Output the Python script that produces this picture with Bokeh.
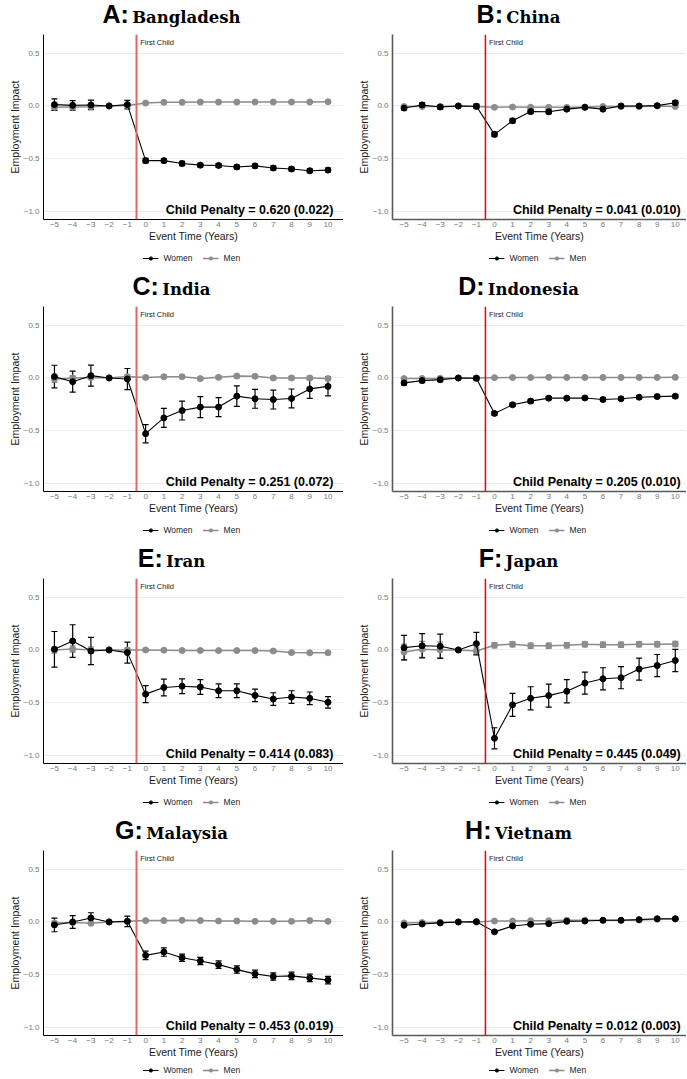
from bokeh.plotting import figure
from bokeh.models import (ColumnDataSource, Whisker, TeeHead, Span, Label, Legend,
                          LegendItem, Div, FixedTicker, CustomJSTickFormatter)
from bokeh.layouts import column, row
from bokeh.embed import file_html
from bokeh.resources import INLINE

event_time = list(range(-5, 11))
y_ticks = [-1.0, -0.5, 0.0, 0.5]

letters = ["A:", "B:", "C:", "D:", "E:", "F:", "G:", "H:"]
countries = ["Bangladesh", "China", "India", "Indonesia", "Iran", "Japan", "Malaysia", "Vietnam"]
penalties = ["0.620 (0.022)", "0.041 (0.010)", "0.251 (0.072)", "0.205 (0.010)",
             "0.414 (0.083)", "0.445 (0.049)", "0.453 (0.019)", "0.012 (0.003)"]
series_names = ["Women", "Men"]

bgd_women = [0.013, 0.006, 0.010, 0.0, 0.013, -0.520, -0.520, -0.547, -0.563, -0.566, -0.580, -0.570, -0.590, -0.600, -0.616, -0.610]
bgd_women_ci = [0.055, 0.045, 0.045, 0.0, 0.040, 0.022, 0.020, 0.020, 0.018, 0.018, 0.018, 0.018, 0.018, 0.018, 0.018, 0.018]
bgd_men = [-0.013, -0.010, -0.008, 0.0, 0.005, 0.028, 0.035, 0.035, 0.037, 0.037, 0.037, 0.038, 0.038, 0.038, 0.038, 0.040]
bgd_men_ci = [0.015, 0.012, 0.012, 0.0, 0.010, 0.006, 0.006, 0.006, 0.006, 0.006, 0.006, 0.006, 0.006, 0.006, 0.006, 0.006]
chn_women = [-0.020, 0.010, -0.010, 0.0, -0.003, -0.270, -0.140, -0.053, -0.055, -0.030, -0.013, -0.030, 0.000, 0.000, 0.003, 0.030]
chn_women_ci = [0.020, 0.020, 0.020, 0.0, 0.020, 0.022, 0.020, 0.020, 0.020, 0.015, 0.015, 0.015, 0.015, 0.015, 0.015, 0.020]
chn_men = [-0.005, -0.005, -0.005, 0.0, -0.005, -0.013, -0.010, -0.012, -0.013, -0.013, -0.010, -0.005, -0.005, -0.005, 0.000, -0.005]
chn_men_ci = [0.010, 0.010, 0.010, 0.0, 0.010, 0.008, 0.008, 0.008, 0.008, 0.008, 0.008, 0.008, 0.008, 0.008, 0.008, 0.008]
ind_women = [0.013, -0.035, 0.022, 0.0, -0.010, -0.530, -0.380, -0.310, -0.277, -0.277, -0.173, -0.198, -0.205, -0.195, -0.104, -0.080]
ind_women_ci = [0.108, 0.100, 0.100, 0.0, 0.100, 0.087, 0.090, 0.090, 0.100, 0.090, 0.098, 0.090, 0.090, 0.090, 0.090, 0.090]
ind_men = [-0.013, 0.000, 0.005, 0.0, 0.013, 0.005, 0.012, 0.012, -0.006, 0.006, 0.018, 0.016, 0.000, 0.000, 0.000, -0.005]
ind_men_ci = [0.030, 0.020, 0.020, 0.0, 0.020, 0.015, 0.015, 0.015, 0.015, 0.015, 0.015, 0.015, 0.015, 0.015, 0.015, 0.015]
idn_women = [-0.047, -0.025, -0.016, 0.0, -0.003, -0.337, -0.255, -0.220, -0.192, -0.192, -0.190, -0.205, -0.198, -0.183, -0.177, -0.173]
idn_women_ci = [0.020, 0.020, 0.018, 0.0, 0.018, 0.018, 0.016, 0.016, 0.016, 0.016, 0.016, 0.016, 0.016, 0.016, 0.016, 0.016]
idn_men = [-0.006, -0.004, -0.003, 0.0, 0.000, 0.003, 0.004, 0.004, 0.006, 0.005, 0.005, 0.005, 0.005, 0.005, 0.005, 0.006]
idn_men_ci = [0.008, 0.008, 0.008, 0.0, 0.006, 0.006, 0.006, 0.006, 0.006, 0.006, 0.006, 0.006, 0.006, 0.006, 0.006, 0.006]
irn_women = [0.006, 0.085, -0.010, 0.0, -0.025, -0.420, -0.357, -0.345, -0.353, -0.388, -0.388, -0.432, -0.467, -0.448, -0.460, -0.498]
irn_women_ci = [0.170, 0.155, 0.130, 0.0, 0.100, 0.080, 0.080, 0.070, 0.070, 0.065, 0.065, 0.060, 0.060, 0.060, 0.060, 0.055]
irn_men = [0.000, 0.010, 0.000, 0.0, 0.000, 0.000, -0.002, -0.005, -0.005, -0.006, -0.006, -0.006, -0.010, -0.025, -0.027, -0.027]
irn_men_ci = [0.030, 0.030, 0.030, 0.0, 0.020, 0.010, 0.010, 0.010, 0.010, 0.010, 0.010, 0.010, 0.010, 0.010, 0.010, 0.010]
jpn_women = [0.022, 0.040, 0.035, 0.0, 0.060, -0.840, -0.522, -0.460, -0.434, -0.393, -0.315, -0.274, -0.264, -0.182, -0.148, -0.100]
jpn_women_ci = [0.117, 0.115, 0.115, 0.0, 0.107, 0.100, 0.110, 0.110, 0.110, 0.110, 0.105, 0.105, 0.105, 0.105, 0.105, 0.105]
jpn_men = [-0.020, 0.006, 0.000, 0.0, -0.010, 0.045, 0.055, 0.040, 0.040, 0.045, 0.055, 0.050, 0.050, 0.055, 0.055, 0.057]
jpn_men_ci = [0.075, 0.075, 0.075, 0.0, 0.030, 0.025, 0.025, 0.025, 0.025, 0.025, 0.025, 0.025, 0.025, 0.025, 0.025, 0.025]
mys_women = [-0.028, 0.000, 0.038, 0.0, 0.006, -0.318, -0.286, -0.340, -0.371, -0.406, -0.453, -0.494, -0.519, -0.513, -0.532, -0.553]
mys_women_ci = [0.065, 0.060, 0.050, 0.0, 0.050, 0.040, 0.040, 0.035, 0.035, 0.035, 0.035, 0.035, 0.035, 0.035, 0.035, 0.035]
mys_men = [-0.010, -0.006, -0.013, 0.0, 0.006, 0.013, 0.013, 0.016, 0.013, 0.010, 0.010, 0.006, 0.006, 0.006, 0.013, 0.006]
mys_men_ci = [0.012, 0.012, 0.012, 0.0, 0.010, 0.008, 0.008, 0.008, 0.008, 0.008, 0.008, 0.008, 0.008, 0.008, 0.008, 0.008]
vnm_women = [-0.031, -0.019, -0.009, 0.0, 0.003, -0.094, -0.038, -0.022, -0.016, 0.006, 0.009, 0.016, 0.016, 0.022, 0.031, 0.031]
vnm_women_ci = [0.006, 0.006, 0.005, 0.0, 0.005, 0.006, 0.005, 0.005, 0.005, 0.005, 0.005, 0.005, 0.005, 0.005, 0.005, 0.005]
vnm_men = [-0.009, -0.006, -0.003, 0.0, 0.000, 0.009, 0.009, 0.012, 0.012, 0.016, 0.016, 0.016, 0.016, 0.019, 0.025, 0.028]
vnm_men_ci = [0.004, 0.004, 0.004, 0.0, 0.004, 0.004, 0.004, 0.004, 0.004, 0.004, 0.004, 0.004, 0.004, 0.004, 0.004, 0.004]

women_all = [bgd_women, chn_women, ind_women, idn_women, irn_women, jpn_women, mys_women, vnm_women]
women_ci_all = [bgd_women_ci, chn_women_ci, ind_women_ci, idn_women_ci, irn_women_ci, jpn_women_ci, mys_women_ci, vnm_women_ci]
men_all = [bgd_men, chn_men, ind_men, idn_men, irn_men, jpn_men, mys_men, vnm_men]
men_ci_all = [bgd_men_ci, chn_men_ci, ind_men_ci, idn_men_ci, irn_men_ci, jpn_men_ci, mys_men_ci, vnm_men_ci]

CELL_W = 343
TITLE_H = 34
FIG_H = 210
LEG_H = 28
LEG_H_LAST = 19
Y_PANEL_LEFT = 43
Y_PANEL_RIGHT = 49
SANS = "Liberation Sans"
WOMEN_C = "#000000"
MEN_C = "#8c8c8c"

x_fmt = CustomJSTickFormatter(code='return (tick < 0 ? "\u2212" : "") + Math.abs(tick).toFixed(0);')
y_fmt = CustomJSTickFormatter(code='return (tick < 0 ? "\u2212" : "") + Math.abs(tick).toFixed(1);')


def make_cell(i, leg_h):
    left_col = (i % 2 == 0)
    axis_c = "#000000" if left_col else "#5a5a5a"
    axis_w = 1 if left_col else 1.6
    vline_c = "#e06666" if left_col else "#ee0000"
    vline_w = 2 if left_col else 1.5
    y_panel = Y_PANEL_LEFT if left_col else Y_PANEL_RIGHT
    x_lo = -5.6 if left_col else -5.64
    x_hi = 10.85 if left_col else 10.62
    title_pad = 0 if left_col else 8

    title = Div(
        text=('<div style="width:%dpx;text-align:center;line-height:26px;padding-top:1px;padding-left:%dpx;'
              'box-sizing:border-box;white-space:nowrap;margin:0;">'
              '<span style="font-family:\'Liberation Sans\';font-weight:bold;font-size:25px;color:#000;">%s</span> '
              '<span style="font-family:\'DejaVu Serif\';font-weight:bold;font-size:16.5px;color:#000;">%s</span></div>')
        % (CELL_W, title_pad, letters[i], countries[i]),
        width=CELL_W, height=TITLE_H, margin=(0, 0, 0, 0))

    p = figure(width=CELL_W, height=FIG_H, x_range=(x_lo, x_hi), y_range=(-1.08, 0.68),
               output_backend="svg", toolbar_location=None,
               min_border_top=0, min_border_right=0, min_border_bottom=0, min_border_left=y_panel,
               margin=(0, 0, 0, 0))
    p.outline_line_color = None
    p.xgrid.grid_line_color = None
    p.ygrid.grid_line_color = "#ebebeb"

    p.xaxis.ticker = FixedTicker(ticks=event_time)
    p.xaxis.formatter = x_fmt
    p.yaxis.ticker = FixedTicker(ticks=y_ticks)
    p.yaxis.formatter = y_fmt
    for ax in (p.xaxis, p.yaxis):
        ax.major_tick_line_color = None
        ax.minor_tick_line_color = None
        ax.major_tick_out = 0
        ax.major_tick_in = 0
        ax.minor_tick_out = 0
        ax.axis_line_color = axis_c
        ax.axis_line_width = axis_w
        ax.major_label_text_font = SANS
        ax.major_label_text_font_size = "8px"
        ax.major_label_text_color = "#777777"
        ax.axis_label_text_font = SANS
        ax.axis_label_text_font_size = "10.5px"
        ax.axis_label_text_font_style = "normal"
        ax.axis_label_text_color = "#1a1a1a"
    p.xaxis.major_label_standoff = 2
    p.yaxis.major_label_standoff = 4
    p.xaxis.axis_label_standoff = 0
    p.yaxis.axis_label_standoff = 0
    p.xaxis.axis_label = "Event Time (Years)"
    p.yaxis.axis_label = "Employment Impact"

    p.add_layout(Span(location=-0.5, dimension="height", line_color=vline_c, line_width=vline_w))

    wm, wc, mm, mc = women_all[i], women_ci_all[i], men_all[i], men_ci_all[i]
    src_w = ColumnDataSource(dict(x=event_time, y=wm,
                                  lo=[a - b for a, b in zip(wm, wc)],
                                  hi=[a + b for a, b in zip(wm, wc)]))
    src_m = ColumnDataSource(dict(x=event_time, y=mm,
                                  lo=[a - b for a, b in zip(mm, mc)],
                                  hi=[a + b for a, b in zip(mm, mc)]))
    for src, col in ((src_m, MEN_C), (src_w, WOMEN_C)):
        p.add_layout(Whisker(source=src, base="x", upper="hi", lower="lo", dimension="height",
                             line_color=col, line_width=1.2,
                             upper_head=TeeHead(size=6, line_color=col, line_width=1.2),
                             lower_head=TeeHead(size=6, line_color=col, line_width=1.2)))
    p.line("x", "y", source=src_m, line_color=MEN_C, line_width=1.5)
    p.scatter("x", "y", source=src_m, size=6, fill_color=MEN_C, line_color=MEN_C)
    p.line("x", "y", source=src_w, line_color=WOMEN_C, line_width=1.1)
    p.scatter("x", "y", source=src_w, size=6, fill_color=WOMEN_C, line_color=WOMEN_C)

    p.add_layout(Label(x=-0.3, y=0.6, text="First Child", text_font=SANS, text_font_size="7.5px",
                       text_color="#222222", text_baseline="middle", text_align="left"))
    p.add_layout(Label(x=10.3, y=-0.985, text="Child Penalty = " + penalties[i], text_font=SANS,
                       text_font_size="12.5px", text_font_style="bold", text_color="#000000",
                       text_baseline="alphabetic", text_align="right"))

    # legend strip under the plot: a small figure whose frame lines up with the main frame;
    # its renderers share the series sources but its ranges keep the marks out of view
    lg = figure(width=CELL_W, height=leg_h, x_range=(100, 101), y_range=(100, 101),
                output_backend="svg", toolbar_location=None,
                min_border_left=y_panel, min_border_right=0, min_border_top=0, min_border_bottom=0,
                margin=(0, 0, 0, 0))
    lg.axis.visible = False
    lg.grid.visible = False
    lg.outline_line_color = None
    r_wl = lg.line("x", "y", source=src_w, line_color=WOMEN_C, line_width=1.2)
    r_wc = lg.scatter("x", "y", source=src_w, size=6, fill_color=WOMEN_C, line_color=WOMEN_C)
    r_ml = lg.line("x", "y", source=src_m, line_color=MEN_C, line_width=1.5)
    r_mc = lg.scatter("x", "y", source=src_m, size=6, fill_color=MEN_C, line_color=MEN_C)
    legend = Legend(items=[LegendItem(label=series_names[0], renderers=[r_wl, r_wc]),
                           LegendItem(label=series_names[1], renderers=[r_ml, r_mc])],
                    orientation="horizontal", location="center",
                    label_text_font=SANS, label_text_font_size="8.5px", label_text_color="#1a1a1a",
                    glyph_width=16, glyph_height=8, label_standoff=5, spacing=10,
                    padding=0, margin=0, border_line_color=None, background_fill_alpha=0)
    lg.add_layout(legend)
    return column(title, p, lg, spacing=0)


rows = []
for r in range(4):
    lh = LEG_H if r < 3 else LEG_H_LAST
    rows.append(row(make_cell(2 * r, lh), make_cell(2 * r + 1, lh), spacing=0))
layout = column(*rows, spacing=0)

open("out.html", "w").write(file_html(layout, INLINE))
